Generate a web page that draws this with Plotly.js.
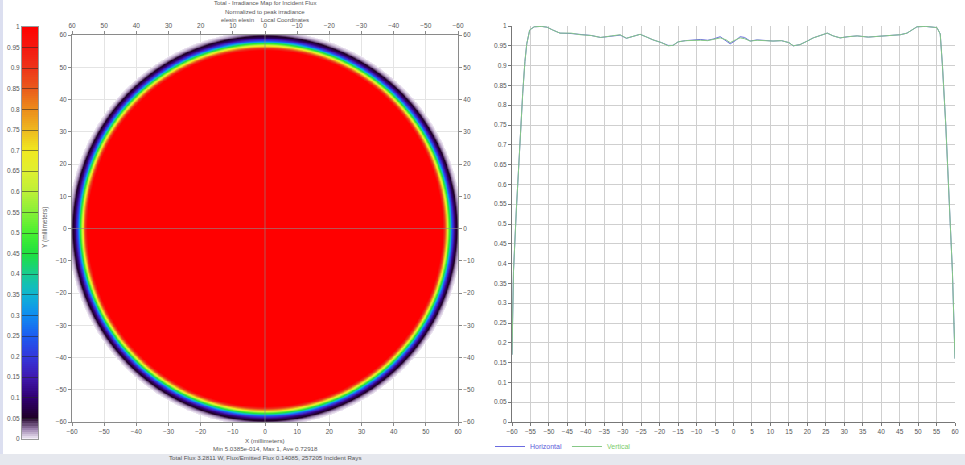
<!DOCTYPE html>
<html><head><meta charset="utf-8">
<script src="https://cdn.plot.ly/plotly-3.0.1.min.js"></script>
<style>html,body{margin:0;padding:0;background:#fff}#c{width:965px;height:465px}</style>
</head><body><div id="c"></div>
<script>
// Radial irradiance profile of the map (radius in mm, normalized irradiance)
const radiusMM = [0, 55.2, 55.8, 56.4, 57.0, 57.6, 58.2, 58.8, 59.4, 60.0, 60.6, 61.2];
const relIrr   = [1, 1,    0.9,  0.75, 0.55, 0.38, 0.22, 0.12, 0.06, 0.03, 0.01, 0];

// Colorbar ticks
const cbTicks = [0,0.05,0.1,0.15,0.2,0.25,0.3,0.35,0.4,0.45,0.5,0.55,0.6,0.65,0.7,0.75,0.8,0.85,0.9,0.95,1];
const mapTicks = [-60,-50,-40,-30,-20,-10,0,10,20,30,40,50,60];

// Cross-section profiles
const profX = [-60,-59.6,-58.8,-58,-57.1,-56.5,-56,-55.2,-54,-52,-50.5,-49,-47,-44,-41.5,-38.5,-36,-33,-30.7,-29,-27,-25.3,-23.5,-21.8,-19.5,-17.7,-16.4,-15,-13,-11,-9,-7,-5.5,-3.6,-2,-0.9,0.5,1.8,3,4.5,6.4,8.5,10.7,13,15,16.2,18,20,21.6,23.5,25.4,27,28.9,31,33.5,36.5,39.7,42.5,45.2,47,47.9,49.7,52,54,55.1,56,56.6,57.5,58.5,59.3,60];
const vertical = [0.17,0.38,0.54,0.69,0.83,0.91,0.955,0.99,0.998,0.999,0.997,0.99,0.982,0.982,0.978,0.976,0.971,0.975,0.978,0.969,0.974,0.979,0.972,0.965,0.958,0.95,0.951,0.96,0.963,0.964,0.964,0.963,0.966,0.97,0.965,0.958,0.965,0.97,0.968,0.962,0.964,0.963,0.962,0.963,0.958,0.95,0.953,0.962,0.97,0.976,0.982,0.975,0.97,0.973,0.975,0.972,0.974,0.976,0.978,0.982,0.987,0.998,0.999,0.998,0.996,0.98,0.9,0.75,0.55,0.38,0.16];
const horizontal = [0.17,0.38,0.54,0.69,0.83,0.91,0.955,0.99,0.998,0.999,0.997,0.99,0.982,0.981,0.978,0.976,0.971,0.975,0.977,0.969,0.974,0.979,0.972,0.965,0.958,0.951,0.951,0.96,0.963,0.965,0.966,0.964,0.967,0.973,0.962,0.955,0.963,0.973,0.971,0.962,0.965,0.963,0.962,0.963,0.958,0.95,0.953,0.962,0.97,0.976,0.982,0.975,0.97,0.973,0.975,0.972,0.974,0.976,0.978,0.982,0.987,0.998,0.999,0.998,0.996,0.98,0.9,0.75,0.55,0.38,0.16];
const profTicksX = [-60,-55,-50,-45,-40,-35,-30,-25,-20,-15,-10,-5,0,5,10,15,20,25,30,35,40,45,50,55,60];

const titleLines = ['Total - Irradiance Map for Incident Flux', 'Normalized to peak irradiance', 'elesin elesin    Local Coordinates'];
const footLines = ['X (millimeters)', 'Min 5.0385e-014, Max 1, Ave 0.72918', 'Total Flux 3.2811 W, Flux/Emitted Flux 0.14085, 257205 Incident Rays'];

const cscale = [
 [0,'#f4eef8'],[0.025,'#9a80ac'],[0.05,'#200028'],[0.1,'#300070'],[0.15,'#4018b0'],[0.2,'#3438dc'],
 [0.25,'#1c5cf0'],[0.3,'#108cf0'],[0.35,'#10b4d4'],[0.4,'#18cc90'],[0.45,'#20e040'],[0.5,'#48f030'],
 [0.55,'#88f038'],[0.6,'#bcf038'],[0.65,'#e0f030'],[0.7,'#f0e820'],[0.75,'#eeb820'],[0.8,'#ec8c1c'],
 [0.85,'#ea5c1c'],[0.9,'#ee3418'],[0.95,'#f41810'],[1,'#ff0000']];

// build the map grid from the radial profile
function prof(r){
  if (r > radiusMM[radiusMM.length-1]) return null;
  for (let i=1;i<radiusMM.length;i++){
    if (r <= radiusMM[i]){
      const t=(r-radiusMM[i-1])/(radiusMM[i]-radiusMM[i-1]);
      return relIrr[i-1]+t*(relIrr[i]-relIrr[i-1]);
    }
  }
  return null;
}
const step=0.25, gx=[];
for (let v=-60; v<=60.0001; v+=step) gx.push(+v.toFixed(3));
const Z = gx.map(y => gx.map(x => prof(Math.hypot(x,y))));

const cbZ = [], cbY = [];
for (let v=0; v<=1.0001; v+=0.005){ cbY.push(+v.toFixed(3)); cbZ.push([+v.toFixed(3)]); }

const FF = 'Liberation Sans, Arial, sans-serif';
const tf = {family:FF, size:6.5, color:'#555'};
const W=965, H=465;
const px = v=>v/W, py = v=>1-v/H;

const traces = [
 {type:'heatmap', x:gx, y:gx, z:Z, colorscale:cscale, zmin:0, zmax:1, showscale:false, xaxis:'x', yaxis:'y', hoverinfo:'skip'},
 {type:'scatter', x:[60,-60], y:[0,0], mode:'markers', marker:{opacity:0}, xaxis:'x2', yaxis:'y', showlegend:false, hoverinfo:'skip'},
 {type:'scatter', x:[0,0], y:[-60,60], mode:'markers', marker:{opacity:0}, xaxis:'x', yaxis:'y2', showlegend:false, hoverinfo:'skip'},
 {type:'heatmap', x:[0.5], y:cbY, z:cbZ, colorscale:cscale, zmin:0, zmax:1, showscale:false, xaxis:'x4', yaxis:'y4', hoverinfo:'skip'},
 {type:'scatter', x:profX, y:horizontal, mode:'lines', name:'<span style="color:#5a5ad8">Horizontal</span>', line:{color:'#6a6ae0', width:1}, xaxis:'x3', yaxis:'y3'},
 {type:'scatter', x:profX, y:vertical, mode:'lines', name:'<span style="color:#7ccc6c">Vertical</span>', line:{color:'#86c886', width:1}, xaxis:'x3', yaxis:'y3'}
];

const mapAx = {tickvals:mapTicks, tickfont:tf, showgrid:true, gridcolor:'#e4e4e4', showline:true, linecolor:'#8a8a8a', ticks:'outside', ticklen:3, tickcolor:'#8a8a8a', zeroline:false, fixedrange:true};

const titleY = [3, 11.5, 20];
const footY = [440, 448.5, 457];
const ann = [];
titleLines.forEach((t,i)=>ann.push({xref:'paper', yref:'paper', x:px(265), y:py(titleY[i]), xanchor:'center', yanchor:'middle', showarrow:false, text:t, font:{family:FF, size:6, color:'#555'}}));
footLines.forEach((t,i)=>ann.push({xref:'paper', yref:'paper', x:px(265), y:py(footY[i]), xanchor:'center', yanchor:'middle', showarrow:false, text:t, font:{family:FF, size:6.2, color:'#555'}}));
ann.push({xref:'paper', yref:'paper', x:px(45), y:py(228), xanchor:'center', yanchor:'middle', showarrow:false, textangle:-90, text:'Y (millimeters)', font:{family:FF, size:6.5, color:'#555'}});

const layout = {
  width:W, height:H, margin:{l:0,r:0,t:0,b:0}, paper_bgcolor:'#fff', plot_bgcolor:'rgba(0,0,0,0)',
  showlegend:true,
  legend:{orientation:'h', x:px(490), y:py(432), xanchor:'left', yanchor:'top', font:{family:FF, size:7, color:'#666'}, bgcolor:'rgba(0,0,0,0)', itemwidth:30, tracegroupgap:0},
  xaxis: Object.assign({}, mapAx, {domain:[px(72),px(458)], range:[-60,60], anchor:'y', side:'bottom'}),
  xaxis2: Object.assign({}, mapAx, {overlaying:'x', range:[60,-60], anchor:'y', side:'top', showgrid:false}),
  yaxis: Object.assign({}, mapAx, {domain:[py(422),py(35)], range:[-60,60], anchor:'x', side:'left'}),
  yaxis2: Object.assign({}, mapAx, {overlaying:'y', range:[-60,60], anchor:'x', side:'right', showgrid:false}),
  xaxis4: {domain:[px(22),px(38)], range:[0,1], anchor:'y4', showticklabels:false, ticks:'', showgrid:false, zeroline:false, showline:true, mirror:true, linecolor:'#999', fixedrange:true},
  yaxis4: {domain:[py(439),py(27)], range:[0,1], anchor:'x4', tickvals:cbTicks, ticktext:cbTicks.map(String), tickfont:tf, ticks:'inside', ticklen:16, tickcolor:'rgba(40,40,40,0.55)', showgrid:false, zeroline:false, showline:true, mirror:true, linecolor:'#999', layer:'above traces', fixedrange:true},
  xaxis3: {domain:[px(512),px(955)], range:[-60,60], anchor:'y3', tickvals:profTicksX, tickfont:tf, showgrid:true, gridcolor:'#cfcfcf', gridwidth:1, showline:true, linecolor:'#777', ticks:'outside', ticklen:3, tickcolor:'#777', zeroline:false, fixedrange:true},
  yaxis3: {domain:[py(422),py(26)], range:[0,1], anchor:'x3', tickvals:cbTicks, ticktext:cbTicks.map(String), tickfont:tf, showgrid:true, gridcolor:'#cfcfcf', gridwidth:1, showline:true, linecolor:'#777', ticks:'outside', ticklen:3, tickcolor:'#777', zeroline:false, fixedrange:true},
  shapes:[
    {type:'line', xref:'x', yref:'y', x0:0, x1:0, y0:-60, y1:60, line:{color:'rgba(140,140,140,0.6)', width:1}, layer:'above'},
    {type:'line', xref:'x', yref:'y', x0:-60, x1:60, y0:0, y1:0, line:{color:'rgba(140,140,140,0.6)', width:1}, layer:'above'},
    {type:'rect', xref:'paper', yref:'paper', x0:0, x1:px(3), y0:0, y1:1, fillcolor:'#dcdff0', line:{width:0}},
    {type:'rect', xref:'paper', yref:'paper', x0:0, x1:1, y0:0, y1:1-454/H, fillcolor:'#e6e8ee', line:{width:0}}
  ],
  annotations: ann
};
Plotly.newPlot('c', traces, layout, {displayModeBar:false, staticPlot:true});
</script></body></html>
